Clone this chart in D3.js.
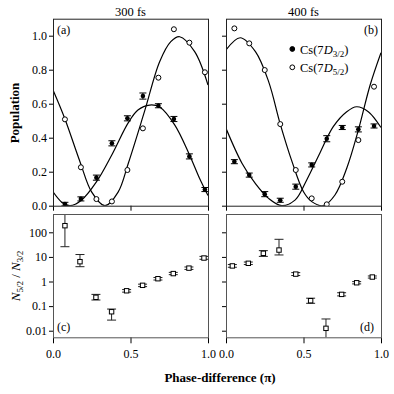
<!DOCTYPE html>
<html>
<head>
<meta charset="utf-8">
<script src="https://cdn.jsdelivr.net/npm/d3@7"></script>
<style>
body { margin: 0; background: #fff; }
svg { font-family: "Liberation Serif", "DejaVu Serif", serif; }
.axis text { font-family: "Liberation Serif", "DejaVu Serif", serif; font-size: 12px; fill: #000; }
.axis line { stroke: #000; }
.axis path { display: none; }
</style>
</head>
<body>
<svg width="394" height="394"></svg>
<script>
// (a) 300 fs populations
const phaseA = [0.077, 0.18, 0.28, 0.38, 0.48, 0.58, 0.68, 0.78, 0.88, 0.98]
const pop32A = [0.01, 0.04, 0.165, 0.367, 0.514, 0.645, 0.588, 0.51, 0.29, 0.095]
const err32A = [0.01, 0.012, 0.015, 0.015, 0.015, 0.018, 0.012, 0.015, 0.015, 0.012]
const pop52A = [0.508, 0.226, 0.039, 0.025, 0.21, 0.455, 0.753, 1.038, 0.959, 0.785]

// (b) 400 fs populations
const phaseB = [0.054, 0.15, 0.25, 0.35, 0.45, 0.553, 0.65, 0.75, 0.854, 0.955]
const pop32B = [0.259, 0.18, 0.068, 0.032, 0.112, 0.24, 0.394, 0.46, 0.449, 0.469]
const err32B = [0.012, 0.012, 0.015, 0.012, 0.015, 0.012, 0.018, 0.012, 0.015, 0.012]
const pop52B = [1.043, 0.955, 0.798, 0.48, 0.21, 0.043, 0.008, 0.141, 0.386, 0.70]

// fitted curves
const fitXA32 = [0, 0.06, 0.11, 0.185, 0.28, 0.38, 0.485, 0.548, 0.624, 0.688, 0.785, 0.88, 0.946, 1.0]
const fitYA32 = [0.082, 0.018, 0.0, 0.034, 0.14, 0.30, 0.487, 0.563, 0.592, 0.58, 0.475, 0.30, 0.16, 0.06]
const fitXA52 = [0, 0.077, 0.174, 0.25, 0.335, 0.42, 0.486, 0.59, 0.688, 0.76, 0.817, 0.914, 1.0]
const fitYA52 = [0.68, 0.51, 0.259, 0.08, 0.0, 0.08, 0.25, 0.553, 0.847, 0.965, 0.994, 0.906, 0.71]
const fitXB32 = [0, 0.103, 0.19, 0.275, 0.36, 0.447, 0.52, 0.606, 0.692, 0.779, 0.843, 0.918, 1.0]
const fitYB32 = [0.455, 0.25, 0.13, 0.043, 0.0, 0.034, 0.15, 0.31, 0.465, 0.553, 0.582, 0.553, 0.46]
const fitXB52 = [0, 0.092, 0.19, 0.275, 0.35, 0.426, 0.5, 0.553, 0.628, 0.703, 0.779, 0.854, 0.93, 1.0]
const fitYB52 = [0.916, 0.988, 0.906, 0.73, 0.48, 0.259, 0.082, 0.024, 0.0, 0.063, 0.22, 0.445, 0.71, 0.90]

// (c) and (d) ratio N5/2 / N3/2
const phaseC = [0.077, 0.174, 0.277, 0.378, 0.475, 0.578, 0.677, 0.776, 0.877, 0.974]
const ratioC = [186, 6.4, 0.228, 0.059, 0.42, 0.70, 1.3, 2.1, 3.5, 9.0]
const lowC = [26, 4.0, 0.177, 0.027, 0.37, 0.62, 1.15, 1.9, 3.1, 8.0]
const highC = [2000, 12.5, 0.30, 0.076, 0.47, 0.78, 1.45, 2.35, 3.9, 10.5]
const phaseD = [0.041, 0.144, 0.241, 0.342, 0.45, 0.546, 0.645, 0.746, 0.843, 0.944]
const ratioD = [4.3, 5.5, 14, 19, 2.0, 0.166, 0.0125, 0.30, 0.89, 1.52]
const lowD = [3.8, 4.9, 10.5, 12, 1.75, 0.13, 0.001, 0.26, 0.80, 1.38]
const highD = [4.9, 6.2, 18, 52, 2.3, 0.21, 0.030, 0.35, 0.99, 1.68]

const popTicks = [0, 0.2, 0.4, 0.6, 0.8, 1.0]
const ratioTicks = [0.01, 0.1, 1, 10, 100]
const phaseTicks = [0, 0.5, 1.0]
const titles = ["300 fs", "400 fs"]

const svg = d3.select("svg")
const xL = d3.scaleLinear().domain([0, 1]).range([53, 208])
const xR = d3.scaleLinear().domain([0, 1]).range([226, 381])
const yPop = d3.scaleLinear().domain([0, 1.1]).range([205.7, 18.7])
const yRat = d3.scaleLog().domain([0.0054, 555]).range([337.3, 214])

const zip = (a, b) => a.map((v, i) => [v, b[i]])

function clip(id, x, y) {
  svg.append("clipPath").attr("id", id).append("rect")
    .attr("x", x.range()[0]).attr("y", y.range()[1])
    .attr("width", x.range()[1] - x.range()[0])
    .attr("height", y.range()[0] - y.range()[1])
}

function frame(x, y, color) {
  svg.append("rect")
    .attr("x", x.range()[0] + 0.5).attr("y", y.range()[1] + 0.5)
    .attr("width", x.range()[1] - x.range()[0])
    .attr("height", y.range()[0] - y.range()[1])
    .attr("fill", "none").attr("stroke", color)
}

function popPanel(x, id, phase, p32, e32, p52, fx32, fy32, fx52, fy52, labels) {
  clip(id, x, yPop)
  const g = svg.append("g").attr("clip-path", "url(#" + id + ")")
  const line = d3.line().curve(d3.curveCatmullRom.alpha(0.5))
    .x(d => x(d[0])).y(d => yPop(d[1]))
  g.append("path").datum(zip(fx32, fy32)).attr("d", line)
    .attr("fill", "none").attr("stroke", "#000").attr("stroke-width", 1.2)
  g.append("path").datum(zip(fx52, fy52)).attr("d", line)
    .attr("fill", "none").attr("stroke", "#000").attr("stroke-width", 1.2)

  const eb = g.append("g").attr("stroke", "#000")
  zip(phase, p32).forEach((d, i) => {
    const cx = x(d[0]), lo = yPop(d[1] - e32[i]), hi = yPop(d[1] + e32[i])
    eb.append("line").attr("x1", cx).attr("x2", cx).attr("y1", lo).attr("y2", hi)
    eb.append("line").attr("x1", cx - 3.5).attr("x2", cx + 3.5).attr("y1", lo).attr("y2", lo)
    eb.append("line").attr("x1", cx - 3.5).attr("x2", cx + 3.5).attr("y1", hi).attr("y2", hi)
  })
  g.selectAll("circle.open").data(zip(phase, p52)).enter().append("circle")
    .attr("class", "open")
    .attr("cx", d => x(d[0])).attr("cy", d => yPop(d[1])).attr("r", 2.5)
    .attr("fill", "#fff").attr("stroke", "#000").attr("stroke-width", 1)
  g.selectAll("circle.fill").data(zip(phase, p32)).enter().append("circle")
    .attr("class", "fill")
    .attr("cx", d => x(d[0])).attr("cy", d => yPop(d[1])).attr("r", 2.3)
    .attr("fill", "#000")

  svg.append("g").attr("class", "axis")
    .attr("transform", "translate(" + x.range()[0] + ",0)")
    .call(d3.axisLeft(yPop).tickValues(popTicks).tickSize(4).tickPadding(2)
      .tickFormat(labels ? d3.format(".1f") : ""))
  svg.append("g").attr("class", "axis")
    .attr("transform", "translate(0," + yPop.range()[0] + ")")
    .call(d3.axisBottom(x).tickValues(phaseTicks).tickSize(5).tickFormat(""))
  frame(x, yPop, "#222")
}

function ratioPanel(x, id, phase, r, lo, hi, labels) {
  clip(id, x, yRat)
  const g = svg.append("g").attr("clip-path", "url(#" + id + ")").attr("stroke", "#222")
  phase.forEach((p, i) => {
    const cx = x(p), y1 = yRat(lo[i]), y2 = yRat(hi[i])
    g.append("line").attr("x1", cx).attr("x2", cx).attr("y1", y1).attr("y2", y2)
    g.append("line").attr("x1", cx - 4.5).attr("x2", cx + 4.5).attr("y1", y1).attr("y2", y1)
    g.append("line").attr("x1", cx - 4.5).attr("x2", cx + 4.5).attr("y1", y2).attr("y2", y2)
  })
  g.selectAll("rect").data(zip(phase, r)).enter().append("rect")
    .attr("x", d => x(d[0]) - 2.2).attr("y", d => yRat(d[1]) - 2.2)
    .attr("width", 4.4).attr("height", 4.4)
    .attr("fill", "#fff").attr("stroke", "#000")

  svg.append("g").attr("class", "axis")
    .attr("transform", "translate(" + x.range()[0] + ",0)")
    .call(d3.axisLeft(yRat).tickValues(ratioTicks).tickSize(4).tickPadding(2)
      .tickFormat(labels ? (d => d) : ""))
  svg.append("g").attr("class", "axis")
    .attr("transform", "translate(0," + yRat.range()[0] + ")")
    .call(d3.axisBottom(x).tickValues(phaseTicks).tickSize(6).tickPadding(6)
      .tickFormat(d3.format(".1f")))
  frame(x, yRat, "#555")
}

popPanel(xL, "clipA", phaseA, pop32A, err32A, pop52A, fitXA32, fitYA32, fitXA52, fitYA52, true)
popPanel(xR, "clipB", phaseB, pop32B, err32B, pop52B, fitXB32, fitYB32, fitXB52, fitYB52, false)
ratioPanel(xL, "clipC", phaseC, ratioC, lowC, highC, true)
ratioPanel(xR, "clipD", phaseD, ratioD, lowD, highD, false)

// titles and labels
svg.selectAll("text.title").data(titles).enter().append("text")
  .attr("class", "title")
  .attr("x", (d, i) => i ? (xR.range()[0] + xR.range()[1]) / 2 : (xL.range()[0] + xL.range()[1]) / 2)
  .attr("y", 16).attr("text-anchor", "middle").attr("font-size", 12.5)
  .text(d => d)

const tag = (t, x, y, anchor) => svg.append("text").attr("x", x).attr("y", y)
  .attr("font-size", 12).attr("text-anchor", anchor).text(t)
tag("(a)", 57, 34, "start")
tag("(b)", 378, 34, "end")
tag("(c)", 57, 331, "start")
tag("(d)", 374, 331, "end")

svg.append("text").attr("transform", "translate(19,113) rotate(-90)")
  .attr("text-anchor", "middle").attr("font-size", 13).attr("font-weight", "bold")
  .text("Population")

const nl = svg.append("text").attr("transform", "translate(20,276) rotate(-90)")
  .attr("text-anchor", "middle").attr("font-size", 13)
nl.append("tspan").attr("font-style", "italic").text("N")
nl.append("tspan").attr("font-size", 9).attr("dy", 3).text("5/2")
nl.append("tspan").attr("dy", -3).text(" / ")
nl.append("tspan").attr("font-style", "italic").text("N")
nl.append("tspan").attr("font-size", 9).attr("dy", 3).text("3/2")

svg.append("text").attr("x", 220).attr("y", 382)
  .attr("text-anchor", "middle").attr("font-size", 13).attr("font-weight", "bold")
  .text("Phase-difference (π)")

// legend
const legend = [{ sub: "3/2", filled: true }, { sub: "5/2", filled: false }]
const lg = svg.append("g").attr("class", "legend")
legend.forEach((d, i) => {
  const ly = 49 + i * 18.3
  lg.append("circle").attr("cx", 292.3).attr("cy", ly).attr("r", 2.4)
    .attr("fill", d.filled ? "#000" : "#fff").attr("stroke", "#000")
  const t = lg.append("text").attr("x", 300).attr("y", ly + 4.5).attr("font-size", 12.5)
  t.append("tspan").text("Cs(7")
  t.append("tspan").attr("font-style", "italic").text("D")
  t.append("tspan").attr("font-size", 9).attr("dy", 3).text(d.sub)
  t.append("tspan").attr("dy", -3).text(")")
})
</script>
</body>
</html>
